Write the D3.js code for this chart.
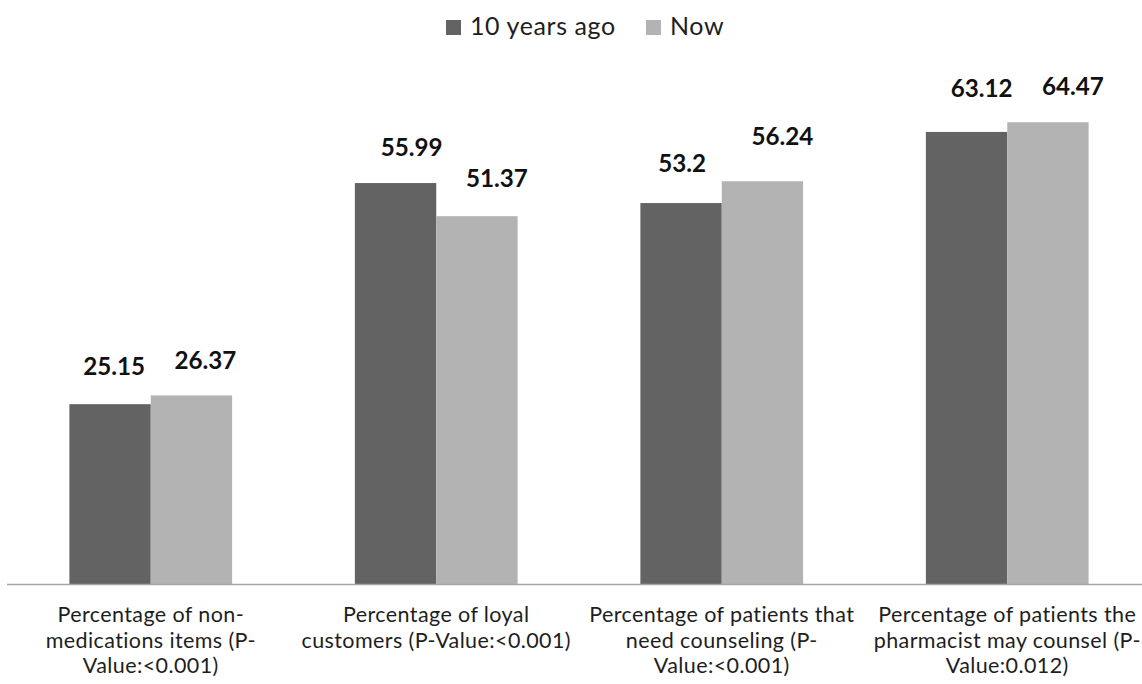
<!DOCTYPE html>
<html><head><meta charset="utf-8">
<script src="https://cdn.jsdelivr.net/npm/d3@7"></script>
<style>body{margin:0;background:#fff}</style>
</head><body><svg id="c" width="1142" height="684"></svg>
<script>
const categories = [
  ["Percentage of non-", "medications items (P-", "Value:<0.001)"],
  ["Percentage of loyal", "customers (P-Value:<0.001)"],
  ["Percentage of patients that", "need counseling (P-", "Value:<0.001)"],
  ["Percentage of patients the", "pharmacist may counsel (P-", "Value:0.012)"]
];
const seriesNames = ["10 years ago", "Now"];
const tenYearsAgo = [25.15, 55.99, 53.2, 63.12];
const now = [26.37, 51.37, 56.24, 64.47];
const valueLabels = [["25.15","26.37"],["55.99","51.37"],["53.2","56.24"],["63.12","64.47"]];

const svg = d3.select("#c");
const font = "Lato, 'Open Sans', sans-serif";
const x0 = d3.scaleBand().domain(d3.range(4)).range([8, 1150]).paddingInner(0.43).paddingOuter(0.215);
const x1 = d3.scaleBand().domain([0,1]).range([0, x0.bandwidth()]);
const y = d3.scaleLinear().domain([0, 70]).range([584.5, 82.6]);
const colors = ["#636363", "#b3b3b3"];
const series = [tenYearsAgo, now];

const g = svg.append("g");
categories.forEach((c, i) => {
  series.forEach((s, j) => {
    g.append("rect").attr("x", x0(i) + x1(j)).attr("y", y(s[i]))
      .attr("width", x1.bandwidth()).attr("height", y(0) - y(s[i])).attr("fill", colors[j]);
  });
});
svg.append("line").attr("x1", 7).attr("x2", 1142).attr("y1", 584.5).attr("y2", 584.5)
  .attr("stroke", "#a6a6a6").attr("stroke-width", 1.5);

categories.forEach((lines, i) => {
  const t = svg.append("text").attr("text-anchor", "middle").attr("font-family", font)
    .attr("font-size", 21.5).attr("letter-spacing", 0.4).attr("fill", "#1e1e1e");
  lines.forEach((l, k) => t.append("tspan").attr("x", x0(i) + x0.bandwidth()/2).attr("y", 622 + k*25.5).text(l));
});
// value labels (manual offsets as in the original)
const dx = [[4,14],[16,20],[1,20],[15,25]];
const dy = [[29,26],[27,29],[31,36],[35,27]];
categories.forEach((c, i) => {
  series.forEach((s, j) => {
    svg.append("text").attr("text-anchor", "middle").attr("font-family", font)
      .attr("font-weight", "bold").attr("font-size", 24.2).attr("fill", "#111")
      .attr("x", x0(i) + x1(j) + x1.bandwidth()/2 + dx[i][j]).attr("y", y(s[i]) - dy[i][j])
      .text(valueLabels[i][j]);
  });
});
// legend
const leg = [{x:446, tx:470}, {x:646, tx:670}];
seriesNames.forEach((n, j) => {
  svg.append("rect").attr("x", leg[j].x).attr("y", 20).attr("width", 15).attr("height", 15).attr("fill", colors[j]);
  svg.append("text").attr("x", leg[j].tx).attr("y", 34.5).attr("font-family", font)
    .attr("font-size", 25).attr("letter-spacing", 0.6).attr("fill", "#1e1e1e").text(n);
});
</script></body></html>
